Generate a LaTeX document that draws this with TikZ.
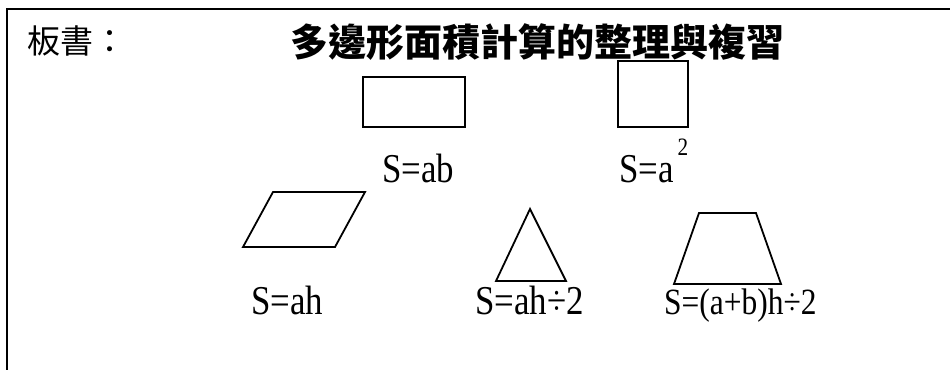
\documentclass[tikz,border=0pt]{standalone}
\usepackage{fontspec}
\setmainfont{Liberation Serif}[FakeStretch=0.85]
\newfontfamily\cjk{Noto Sans CJK TC}

\begin{document}
\begin{tikzpicture}[
  x=1pt, y=-1pt,
  frame/.style={draw=black, line width=2.4pt},
  figure/.style={draw=black, line width=1.8pt, line join=miter},
  formula/.style={anchor=base west, inner sep=0pt, font=\fontsize{41}{41}\selectfont},
  heading/.style={anchor=base, inner sep=0pt, font=\cjk\bfseries\fontsize{38}{38}\selectfont},
  label/.style={anchor=base west, inner sep=0pt, font=\cjk\fontsize{33}{33}\selectfont}
]
\useasboundingbox (0,0) rectangle (950,370);

% board frame: top and left edges only
\coordinate (cornerTL) at (7,9);
\coordinate (cornerTR) at (950,9);
\coordinate (cornerBL) at (7,370);
\draw[frame] (cornerTR) -- (cornerTL) -- (cornerBL);

\node[label] (board) at (27,53) {板書：};
\node[heading] (title) at (537,56) {多邊形面積計算的整理與複習};

% first row: rectangle and square
\draw[figure] (363,77) rectangle (465,127);
\draw[figure] (618,61) rectangle (688,127);
\node[formula] (rectArea) at (382,182) {S=ab};
\node[formula] (squareArea) at (619,182) {S=a\hspace{4pt}\raisebox{27pt}{\fontsize{25}{25}\selectfont 2}};

% second row: parallelogram, triangle, trapezoid
\draw[figure] (243,247) -- (273,192) -- (365,192) -- (335,247) -- cycle;
\draw[figure] (530,209) -- (566,281) -- (496,281) -- cycle;
\draw[figure] (699,213) -- (756,213) -- (781,284) -- (674,284) -- cycle;

\node[formula] (paraArea) at (251,314) {S=ah};
\node[formula] (triArea) at (475,314) {S=ah÷2};
\node[formula, font=\fontsize{37}{37}\selectfont] (trapArea) at (664,314) {S=(a+b)h÷2};
\end{tikzpicture}
\end{document}
